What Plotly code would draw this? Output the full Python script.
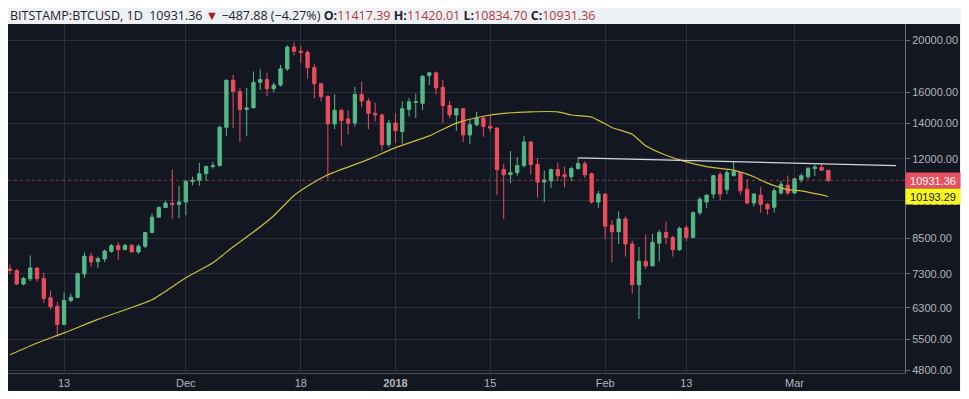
import numpy as np
import pandas as pd
import plotly.graph_objects as go

# ---------------- data ----------------
dates = pd.date_range("2017-11-05", "2018-03-06", freq="D")

opens = [7450, 7400, 6980, 7140, 7480, 7150, 6580, 6340, 5860, 6500,
         6590, 7290, 7870, 7690, 7780, 8040, 8240, 8100, 8250, 8020,
         8220, 8720, 9320, 9720, 9900, 9850, 9950, 10880, 10930, 11250,
         11600, 11650, 13750, 16850, 16050, 14850, 14950, 16700, 16900, 16250,
         16500, 17700, 19450, 19100, 19000, 17800, 16600, 15700, 13950, 14800,
         14250, 14000, 15850, 15400, 14600, 14500, 12750, 14000, 13500, 14850,
         15300, 15250, 17200, 17400, 16350, 15100, 14500, 14900, 13300, 13900,
         14300, 13800, 13700, 11450, 11200, 11300, 11650, 12900, 11700, 10850,
         10900, 11450, 11200, 11100, 11500, 11750, 11250, 9950, 10300, 9000,
         8750, 9250, 8300, 6960, 7700, 7550, 8330, 8720, 8540, 8100,
         8900, 8540, 9500, 9950, 10300, 11200, 10500, 11150, 11300, 10520,
         9910, 10250, 9850, 9730, 10350, 10700, 10350, 10950, 11100, 11500,
         11560, 11417.39]
highs = [7600, 7450, 7200, 7900, 7500, 7330, 6790, 6460, 6730, 6700,
         7330, 8000, 7990, 7860, 8100, 8300, 8370, 8300, 8300, 8300,
         8750, 9480, 9760, 10000, 11450, 10670, 10950, 11100, 11790, 11650,
         11850, 13850, 16900, 17250, 16300, 16300, 17500, 17660, 17400, 16700,
         18000, 19600, 19850, 19530, 19200, 18100, 16300, 15800, 15850, 14900,
         14800, 16380, 16760, 15600, 15300, 14600, 14200, 14600, 15400, 15600,
         15900, 17200, 17450, 17500, 16900, 15400, 14950, 14950, 14200, 14700,
         14450, 14450, 13750, 11750, 12400, 12100, 13230, 12950, 12030, 11400,
         11500, 11790, 11600, 11600, 12050, 11880, 11300, 10440, 10300, 9200,
         9560, 9350, 8420, 8190, 8650, 8680, 8820, 9150, 8600, 8950,
         9000, 9560, 10170, 10300, 11200, 11350, 11450, 11850, 11350, 10970,
         10350, 10630, 9910, 10580, 10900, 11160, 11050, 11270, 11560, 11700,
         11760, 11420.01]
lows = [7300, 6950, 6940, 7070, 7050, 6440, 6250, 5560, 5850, 6450,
        6560, 7160, 7520, 7480, 7680, 7990, 7760, 8080, 8000, 7950,
        8150, 8700, 9320, 9680, 9250, 9280, 9400, 10700, 10670, 10900,
        11500, 11600, 13250, 13700, 12900, 13250, 14950, 16150, 15710, 16000,
        16400, 17550, 18770, 18150, 16990, 15590, 15390, 11000, 13640, 12690,
        13340, 13800, 15000, 13640, 14100, 12420, 12600, 12870, 12800, 14400,
        14310, 14800, 16500, 15850, 14000, 14300, 13530, 12900, 12800, 13800,
        13200, 13500, 10250, 9240, 10800, 11150, 11550, 11200, 10150, 9950,
        10580, 10900, 10600, 10900, 11450, 11050, 9880, 9700, 8470, 7670,
        8300, 7860, 6700, 6000, 7450, 7550, 7700, 8300, 7860, 8050,
        8400, 8520, 9400, 9700, 10100, 10010, 10300, 11150, 10270, 9850,
        9760, 9500, 9430, 9500, 10270, 10250, 10300, 10830, 11000, 11130,
        11400, 10834.70]
closes = [7400, 6980, 7150, 7480, 7150, 6560, 6330, 5860, 6500, 6590,
          7300, 7870, 7680, 7790, 8050, 8240, 8100, 8250, 8020, 8220,
          8720, 9320, 9720, 9900, 9850, 9950, 10880, 10930, 11250, 11600,
          11650, 13750, 16850, 16050, 14850, 14950, 16700, 16900, 16250, 16500,
          17700, 19450, 19100, 19000, 17800, 16600, 15700, 13950, 14800, 14150,
          14000, 15850, 15400, 14600, 14500, 12750, 14000, 13550, 14900, 15350,
          15350, 17150, 17400, 16300, 15100, 14500, 14900, 13300, 13900, 14300,
          13800, 13700, 11450, 11200, 11300, 11650, 12900, 11700, 10850, 10950,
          11450, 11150, 11100, 11500, 11750, 11200, 9950, 10300, 8960, 8750,
          9250, 8300, 6960, 7700, 7550, 8360, 8720, 8540, 8100, 8880,
          8540, 9500, 10070, 10250, 11150, 10300, 11300, 11350, 10450, 9910,
          10300, 9850, 9660, 10450, 10750, 10350, 11000, 11150, 11520, 11570,
          11419.24, 10931.36]

# 50-day moving average
ma_dates = ["2017-11-05", "2017-11-09", "2017-11-13", "2017-11-18", "2017-11-26",
            "2017-12-01", "2017-12-05", "2017-12-08", "2017-12-11", "2017-12-14",
            "2017-12-17", "2017-12-20", "2017-12-22", "2017-12-28", "2018-01-01",
            "2018-01-06", "2018-01-10", "2018-01-14", "2018-01-17", "2018-01-21",
            "2018-01-25", "2018-01-27", "2018-01-30", "2018-02-02", "2018-02-05",
            "2018-02-07", "2018-02-10", "2018-02-13", "2018-02-16", "2018-02-20",
            "2018-02-23", "2018-02-25", "2018-02-28", "2018-03-02", "2018-03-06"]
ma_values = [5140, 5410, 5650, 5990, 6520,
             7170, 7650, 8200, 8740, 9380,
             10240, 10850, 11200, 11970, 12590,
             13250, 14000, 14420, 14600, 14700,
             14700, 14500, 14370, 13740, 13340,
             12690, 12180, 11840, 11600, 11420,
             11100, 10800, 10500, 10440, 10193.29]

# resistance trend line
trend_dates = ["2018-01-28", "2018-03-16"]
trend_values = [12050, 11650]

last_price = 10931.36
last_ma = 10193.29

x_tickvals = ["2017-11-13", "2017-12-01", "2017-12-18", "2018-01-01",
              "2018-01-15", "2018-02-01", "2018-02-13", "2018-03-01"]
x_ticktext = ["13", "Dec", "18", "<b>2018</b>", "15", "Feb", "13", "Mar"]
y_tickvals = [4800, 5500, 6300, 7300, 8500, 10000, 12000, 14000, 16000, 20000]
y_ticktext = [f"{v:.2f}" for v in y_tickvals]

x_range = ["2017-11-04 17:00", "2018-03-17 08:00"]
y_range = [4751, 21490]

# ---------------- styling ----------------
BG = "#131722"
GRID = "#2c303b"
TXT = "#b2b5be"
UP = "#53b987"
DOWN = "#eb4d5c"
FONT = "Liberation Sans, Arial, sans-serif"

# page body has an 8px margin: figure occupies page 8..961 x 8..391
W, H = 953, 383
ML, MR, MT, MB = 0, 56, 16, 18
PW, PH = W - ML - MR, H - MT - MB

fig = go.Figure()

fig.add_trace(go.Scatter(
    x=x_range, y=[last_price, last_price], mode="lines",
    line=dict(color="rgba(235,77,92,0.6)", width=1, dash="dot"),
    hoverinfo="skip", showlegend=False))

fig.add_trace(go.Candlestick(
    x=dates, open=opens, high=highs, low=lows, close=closes,
    increasing=dict(line=dict(color=UP, width=1), fillcolor=UP),
    decreasing=dict(line=dict(color=DOWN, width=1), fillcolor=DOWN),
    whiskerwidth=0, showlegend=False))

fig.add_trace(go.Scatter(
    x=pd.to_datetime(ma_dates), y=ma_values, mode="lines",
    line=dict(color="#c9bf38", width=1.2, shape="spline", smoothing=0.5),
    hoverinfo="skip", showlegend=False))

fig.add_trace(go.Scatter(
    x=pd.to_datetime(trend_dates), y=trend_values, mode="lines",
    line=dict(color="#d6d8de", width=1.3),
    hoverinfo="skip", showlegend=False))

header = (
    "BITSTAMP:BTCUSD, 1D&nbsp; 10931.36 <span style='color:#b0171f'>▼</span> "
    "−487.88 (−4.27%) "
    "<b>O:</b><span style='color:#b03a3e'>11417.39</span> "
    "<b>H:</b><span style='color:#b03a3e'>11420.01</span> "
    "<b>L:</b><span style='color:#b03a3e'>10834.70</span> "
    "<b>C:</b><span style='color:#b03a3e'>10931.36</span>"
)

fig.update_layout(
    width=W, height=H,
    margin=dict(l=ML, r=MR, t=MT, b=MB, autoexpand=False),
    paper_bgcolor="#eef1f4",
    plot_bgcolor=BG,
    font=dict(family=FONT, size=11, color=TXT),
    showlegend=False,
    hovermode=False,
    shapes=[dict(type="rect", xref="paper", yref="paper",
                 x0=0, x1=(952 - ML) / PW, y0=-MB / PH, y1=1,
                 fillcolor=BG, line=dict(width=0), layer="below")],
    annotations=[
        dict(xref="paper", yref="paper", x=0, y=1 + (MT - 7.5) / PH,
             xanchor="left", yanchor="middle", showarrow=False, text=header,
             font=dict(family="Open Sans, sans-serif", size=12.5, color="#1e222d")),
        dict(xref="paper", yref="y", x=1, y=np.log10(last_price),
             xanchor="left", yanchor="middle", showarrow=False,
             text=f"{last_price:.2f}", bgcolor="#e9505f", width=52, height=13,
             borderpad=1, font=dict(family=FONT, size=11, color="#ffffff")),
        dict(xref="paper", yref="y", x=1, y=np.log10(last_ma),
             xanchor="left", yanchor="middle", showarrow=False,
             text=f"{last_ma:.2f}", bgcolor="#f7f71e", width=52, height=13,
             borderpad=1, font=dict(family=FONT, size=11, color="#131722")),
    ],
)

fig.update_xaxes(
    type="date", range=x_range,
    tickvals=x_tickvals, ticktext=x_ticktext,
    showgrid=True, gridcolor=GRID, gridwidth=1,
    showline=True, linecolor="#4a4e59", linewidth=1,
    ticks="", tickfont=dict(family=FONT, size=11, color=TXT),
    rangeslider=dict(visible=False), zeroline=False,
)
fig.update_yaxes(
    type="log", side="right", range=[np.log10(y_range[0]), np.log10(y_range[1])],
    tickvals=y_tickvals, ticktext=y_ticktext,
    showgrid=True, gridcolor=GRID, gridwidth=1,
    showline=True, linecolor="#6a6e79", linewidth=1,
    ticks="outside", ticklen=4, tickcolor="#6a6e79",
    tickfont=dict(family=FONT, size=11, color=TXT), zeroline=False,
)

fig.write_html("out.html")
